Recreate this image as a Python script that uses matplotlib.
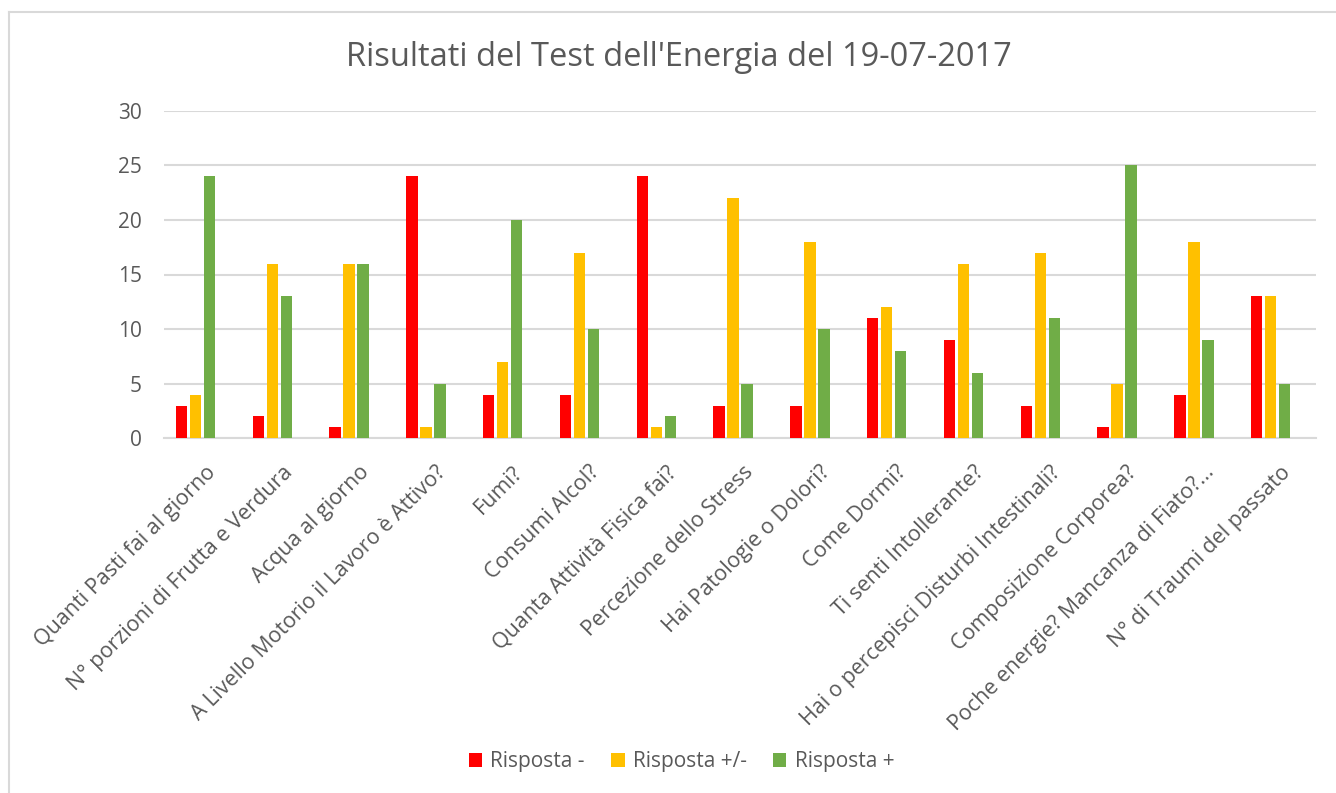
import matplotlib
matplotlib.use("Agg")
import matplotlib.pyplot as plt
import matplotlib.transforms as mtransforms
from matplotlib.lines import Line2D
import numpy as np

categories = [
    "Quanti Pasti fai al giorno",
    "N° porzioni di Frutta e Verdura",
    "Acqua al giorno",
    "A Livello Motorio il Lavoro è Attivo?",
    "Fumi?",
    "Consumi Alcol?",
    "Quanta Attività Fisica fai?",
    "Percezione dello Stress",
    "Hai Patologie o Dolori?",
    "Come Dormi?",
    "Ti senti Intollerante?",
    "Hai o percepisci Disturbi Intestinali?",
    "Composizione Corporea?",
    "Poche energie? Mancanza di Fiato?...",
    "N° di Traumi del passato",
]
risposta_neg = [3, 2, 1, 24, 4, 4, 24, 3, 3, 11, 9, 3, 1, 4, 13]
risposta_mid = [4, 16, 16, 1, 7, 17, 1, 22, 18, 12, 16, 17, 5, 18, 13]
risposta_pos = [24, 13, 16, 5, 20, 10, 2, 5, 10, 8, 6, 11, 25, 9, 5]
series_names = ["Risposta -", "Risposta +/-", "Risposta +"]
y_ticks = [0, 5, 10, 15, 20, 25, 30]

colors = ["#FF0000", "#FFC000", "#70AD47"]
text_color = "#595959"
grid_color = "#D9D9D9"

plt.rcParams["font.family"] = ["Open Sans", "DejaVu Sans"]

W, H = 1336, 793
fig = plt.figure(figsize=(W / 100, H / 100), dpi=100)
ax = fig.add_axes([164 / W, 1 - 438.3 / H, (1316 - 164) / W, (438.3 - 110.7) / H])

x = np.arange(len(categories))
bw = 0.147
step = 0.182
for i, (vals, c, name) in enumerate(zip([risposta_neg, risposta_mid, risposta_pos], colors, series_names)):
    ax.bar(x + (i - 1) * step, vals, width=bw, color=c, label=name, zorder=3)

ax.set_xlim(-0.41, len(categories) - 1 + 0.59)
ax.set_ylim(0, 30)
ax.set_yticks(y_ticks)
ax.yaxis.grid(True, color=grid_color, linewidth=1.5, zorder=0)
ax.set_axisbelow(True)
for s in ["top", "right", "left"]:
    ax.spines[s].set_visible(False)
ax.spines["bottom"].set_color(grid_color)
ax.spines["bottom"].set_linewidth(1.5)
ax.tick_params(axis="y", length=0, pad=16, labelsize=15, labelcolor=text_color)
ax.tick_params(axis="x", length=0, pad=0, labelsize=15.5, labelcolor=text_color)

ax.set_xticks(x)
ax.set_xticklabels(categories, rotation=45, ha="right", va="center", rotation_mode="anchor")
offset = mtransforms.ScaledTranslation(17 / 100, -31 / 100, fig.dpi_scale_trans)
for lbl in ax.get_xticklabels():
    lbl.set_transform(lbl.get_transform() + offset)

fig.text(0.5 * (345 + 1012) / W, 1 - 57 / H, "Risultati del Test dell'Energia del 19-07-2017",
         ha="center", va="center", fontsize=23.5, color=text_color)

leg = fig.legend(loc="center", bbox_to_anchor=(681.5 / W, 1 - 762 / H), ncol=3, frameon=False,
                 fontsize=15, handlelength=0.65, handleheight=0.65, handletextpad=0.4,
                 columnspacing=1.25, labelcolor=text_color)

# chart border (top and left edges visible)
fig.add_artist(Line2D([9 / W, 9 / W], [0, 1 - 12 / H], transform=fig.transFigure, color=grid_color, linewidth=1.5))
fig.add_artist(Line2D([9 / W, 1], [1 - 12 / H, 1 - 12 / H], transform=fig.transFigure, color=grid_color, linewidth=1.5))

fig.savefig("out.png", dpi=100)
